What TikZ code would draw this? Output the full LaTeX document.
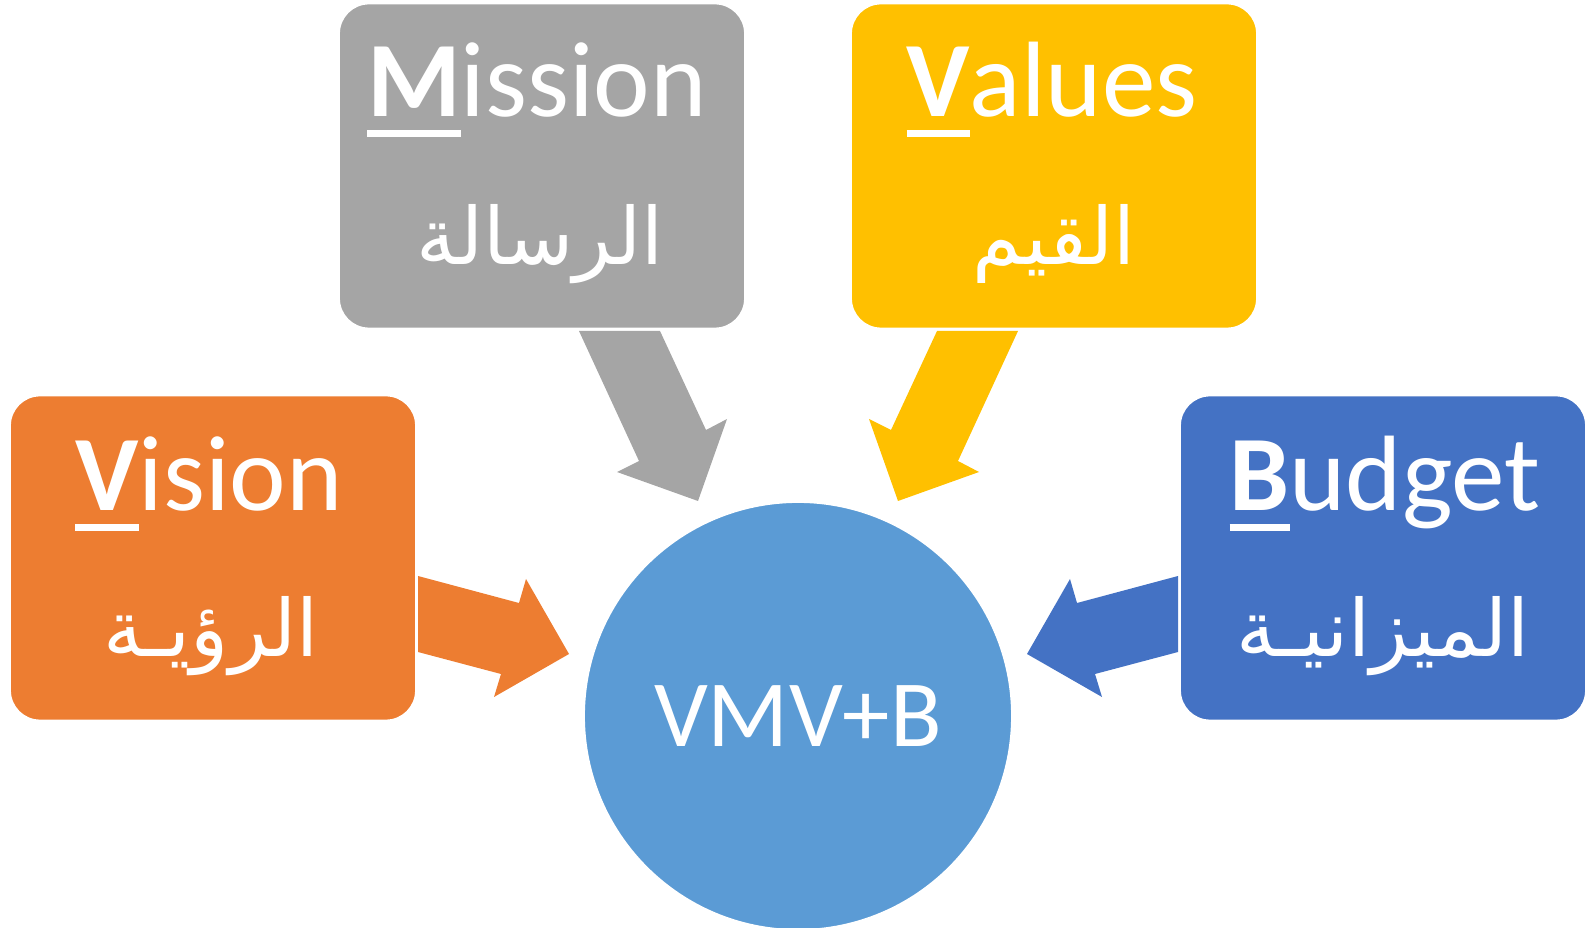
\documentclass[tikz,border=0pt]{standalone}
\usepackage{fontspec}
\setmainfont{Carlito}
\newfontfamily\arabicfont[Script=Arabic]{DejaVu Sans}
\TeXXeTstate=1
\usepackage{tikz}
\definecolor{missiongray}{HTML}{A5A5A5}
\definecolor{valuesgold}{HTML}{FFC000}
\definecolor{visionorange}{HTML}{ED7D31}
\definecolor{budgetblue}{HTML}{4472C4}
\definecolor{centerblue}{HTML}{5B9BD5}
\newcommand\firstul[1]{\sbox0{\bfseries #1}\rlap{\rule[-0.19em]{\wd0}{0.065em}}\usebox0}

\begin{document}
\begin{tikzpicture}[x=0.02cm, y=-0.02cm,
		box/.style={rounded corners=0.6cm, minimum width=8.12cm, minimum height=6.5cm, draw=white, line width=1pt},
		word/.style={text=white, anchor=base, font=\fontsize{61}{62}\selectfont},
		arab/.style={text=white, anchor=base, font=\fontsize{45}{48}\selectfont\arabicfont}]
		\useasboundingbox (0,0) rectangle (1592,928);
		% the four boxes
		\node[box, fill=missiongray] (mission) at (542,166) {};
		\node[box, fill=valuesgold] (values) at (1054,166) {};
		\node[box, fill=visionorange] (vision) at (213,558) {};
		\node[box, fill=budgetblue] (budget) at (1383,558) {};
		\node[word] (missionEn) at (537,117) {\firstul{M}ission};
		\node[arab] (missionAr) at (540,265) {\beginR الرسالة\endR};
		\node[word] (valuesEn) at (1052,117) {\firstul{V}alues};
		\node[arab] (valuesAr) at (1054,265) {\beginR القيم\endR};
		\node[word] (visionEn) at (209,511) {\firstul{V}ision};
		\node[arab] (visionAr) at (211,657) {\beginR الرؤيـة\endR};
		\node[word] (budgetEn) at (1385,511) {\firstul{B}udget};
		\node[arab] (budgetAr) at (1383,657) {\beginR الميزانيـة\endR};
		% the centre
		\node[circle, fill=centerblue, draw=white, line width=1pt, minimum size=8.56cm, inner sep=0pt,
		      text=white, font=\fontsize{54}{56}\selectfont] (vmvb) at (798,716) {VMV+B};
		% block arrows
		\fill[missiongray] (579,331) -- (660,331) -- (706,430) -- (727,419) -- (698,501) -- (617,472) -- (639,461) -- cycle;
		\fill[valuesgold] (937,331) -- (1018,331) -- (958,461) -- (979,472) -- (898,501) -- (869,419) -- (891,430) -- cycle;
		\fill[visionorange] (418,576) -- (519,603) -- (526,579) -- (569,654) -- (494,697) -- (501,674) -- (418,652) -- cycle;
		\fill[budgetblue] (1178,576) -- (1077,603) -- (1070,579) -- (1027,654) -- (1102,697) -- (1095,674) -- (1178,652) -- cycle;
	\end{tikzpicture}
\end{document}
